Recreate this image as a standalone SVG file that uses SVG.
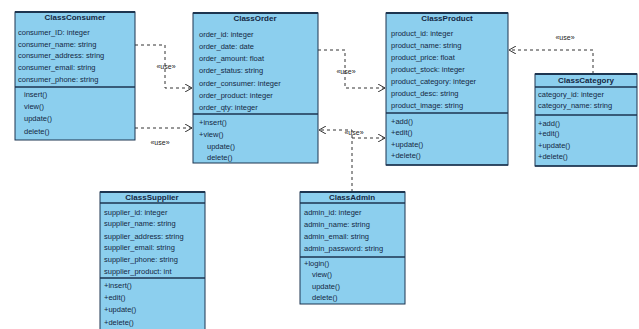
<svg xmlns="http://www.w3.org/2000/svg" width="639" height="329" viewBox="0 0 639 329">
  <style>
    .box { fill: #8ccfee; stroke: #1d3550; stroke-width: 1; }
    .top { stroke: #1d3550; stroke-width: 2; }
    .sep { stroke: #1d3550; stroke-width: 1.5; }
    .t { font-family: "Liberation Sans", Arial, sans-serif; font-size: 7.5px; fill: #142844; }
    .title { font-family: "Liberation Sans", Arial, sans-serif; font-size: 8px; font-weight: bold; fill: #142844; text-anchor: middle; }
    .conn { fill: none; stroke: #333; stroke-width: 1; stroke-dasharray: 3 3; }
    .lbl { font-family: "Liberation Sans", Arial, sans-serif; font-size: 7px; fill: #222; text-anchor: middle; }
  </style>
  <defs>
    <marker id="open" markerWidth="8" markerHeight="8" refX="7" refY="4" orient="auto" markerUnits="userSpaceOnUse">
      <path d="M0,0 L7,4 L0,8" fill="none" stroke="#333" stroke-width="1"/>
    </marker>
  </defs>
  <rect width="639" height="329" fill="#ffffff"/>

  <!-- dependency links, all dashed with open heads -->
  <g id="connectors">
    <path class="conn" d="M135,45 H165 V88 H192" marker-end="url(#open)"/>
    <text class="lbl" x="166" y="69">«use»</text>
    <path class="conn" d="M135,128 H192" marker-end="url(#open)"/>
    <text class="lbl" x="160" y="145">«use»</text>
    <path class="conn" d="M318,50 H345 V88 H385" marker-end="url(#open)"/>
    <text class="lbl" x="346" y="74">«use»</text>
    <path class="conn" d="M352,192 V130 H319" marker-end="url(#open)"/>
    <path class="conn" d="M352,138 H385" marker-end="url(#open)"/>
    <text class="lbl" x="354" y="135">«use»</text>
    <path class="conn" d="M593,74 V50 H509" marker-end="url(#open)"/>
    <text class="lbl" x="565" y="40">«use»</text>
  </g>

  <g id="ClassConsumer">
    <rect class="box" x="15" y="12" width="120" height="128"/>
    <line class="top" x1="15" y1="12" x2="135" y2="12"/>
    <text class="title" x="75" y="20">ClassConsumer</text>
    <text class="t" x="18" y="35">consumer_ID: integer</text>
    <text class="t" x="18" y="47">consumer_name: string</text>
    <text class="t" x="18" y="58">consumer_address: string</text>
    <text class="t" x="18" y="70">consumer_email: string</text>
    <text class="t" x="18" y="82">consumer_phone: string</text>
    <line class="sep" x1="15" y1="87" x2="135" y2="87"/>
    <text class="t" x="24" y="97">insert()</text>
    <text class="t" x="24" y="109">view()</text>
    <text class="t" x="24" y="121">update()</text>
    <text class="t" x="24" y="134">delete()</text>
  </g>

  <g id="ClassOrder">
    <rect class="box" x="193" y="13" width="125" height="150"/>
    <line class="top" x1="193" y1="13" x2="318" y2="13"/>
    <text class="title" x="255" y="21">ClassOrder</text>
    <text class="t" x="199" y="37">order_id: integer</text>
    <text class="t" x="199" y="49">order_date: date</text>
    <text class="t" x="199" y="61">order_amount: float</text>
    <text class="t" x="199" y="73">order_status: string</text>
    <text class="t" x="199" y="86">order_consumer: integer</text>
    <text class="t" x="199" y="98">order_product: integer</text>
    <text class="t" x="199" y="110">order_qty: integer</text>
    <line class="sep" x1="193" y1="114" x2="318" y2="114"/>
    <text class="t" x="199" y="125">+insert()</text>
    <text class="t" x="199" y="137">+view()</text>
    <text class="t" x="207" y="149">update()</text>
    <text class="t" x="207" y="160">delete()</text>
  </g>

  <g id="ClassProduct">
    <rect class="box" x="386" y="13" width="122" height="152"/>
    <line class="top" x1="386" y1="13" x2="508" y2="13"/>
    <text class="title" x="447" y="21">ClassProduct</text>
    <text class="t" x="391" y="36">product_id: integer</text>
    <text class="t" x="391" y="48">product_name: string</text>
    <text class="t" x="391" y="60">product_price: float</text>
    <text class="t" x="391" y="72">product_stock: integer</text>
    <text class="t" x="391" y="84">product_category: integer</text>
    <text class="t" x="391" y="96">product_desc: string</text>
    <text class="t" x="391" y="108">product_image: string</text>
    <line class="sep" x1="386" y1="113" x2="508" y2="113"/>
    <text class="t" x="391" y="124">+add()</text>
    <text class="t" x="391" y="135">+edit()</text>
    <text class="t" x="391" y="147">+update()</text>
    <text class="t" x="391" y="158">+delete()</text>
    <line class="sep" x1="386" y1="165" x2="508" y2="165"/>
  </g>

  <g id="ClassCategory">
    <rect class="box" x="535" y="74" width="102" height="92"/>
    <line class="top" x1="535" y1="74" x2="637" y2="74"/>
    <text class="title" x="586" y="83">ClassCategory</text>
    <line class="sep" x1="535" y1="87" x2="637" y2="87"/>
    <text class="t" x="538" y="97">category_id: integer</text>
    <text class="t" x="538" y="108">category_name: string</text>
    <line class="sep" x1="535" y1="115" x2="637" y2="115"/>
    <text class="t" x="538" y="126">+add()</text>
    <text class="t" x="538" y="136">+edit()</text>
    <text class="t" x="538" y="148">+update()</text>
    <text class="t" x="538" y="159">+delete()</text>
    <line class="sep" x1="535" y1="166" x2="637" y2="166"/>
  </g>

  <g id="ClassSupplier">
    <rect class="box" x="100" y="192" width="105" height="140"/>
    <line class="top" x1="100" y1="192" x2="205" y2="192"/>
    <text class="title" x="152" y="200">ClassSupplier</text>
    <line class="sep" x1="100" y1="203" x2="205" y2="203"/>
    <text class="t" x="104" y="215">supplier_id: integer</text>
    <text class="t" x="104" y="226">supplier_name: string</text>
    <text class="t" x="104" y="239">supplier_address: string</text>
    <text class="t" x="104" y="250">supplier_email: string</text>
    <text class="t" x="104" y="262">supplier_phone: string</text>
    <text class="t" x="104" y="274">supplier_product: int</text>
    <line class="sep" x1="100" y1="278" x2="205" y2="278"/>
    <text class="t" x="104" y="288">+insert()</text>
    <text class="t" x="104" y="300">+edit()</text>
    <text class="t" x="104" y="312">+update()</text>
    <text class="t" x="104" y="325">+delete()</text>
  </g>

  <g id="ClassAdmin">
    <rect class="box" x="300" y="192" width="105" height="112"/>
    <line class="top" x1="300" y1="192" x2="405" y2="192"/>
    <text class="title" x="352" y="200">ClassAdmin</text>
    <line class="sep" x1="300" y1="203" x2="405" y2="203"/>
    <text class="t" x="304" y="215">admin_id: integer</text>
    <text class="t" x="304" y="227">admin_name: string</text>
    <text class="t" x="304" y="239">admin_email: string</text>
    <text class="t" x="304" y="251">admin_password: string</text>
    <line class="sep" x1="300" y1="257" x2="405" y2="257"/>
    <text class="t" x="304" y="266">+login()</text>
    <text class="t" x="312" y="277">view()</text>
    <text class="t" x="312" y="289">update()</text>
    <text class="t" x="312" y="300">delete()</text>
  </g>
</svg>
